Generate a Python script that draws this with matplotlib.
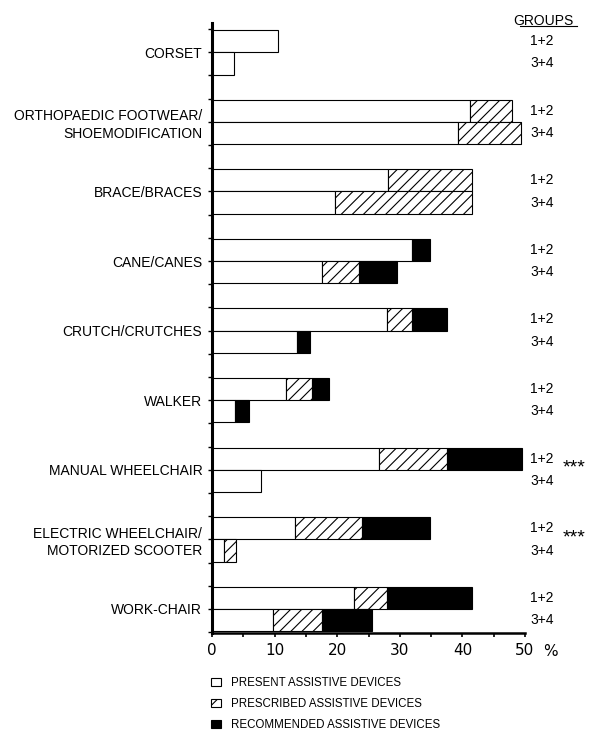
import matplotlib
matplotlib.use('Agg')
import matplotlib.pyplot as plt
from matplotlib.patches import Patch
import numpy as np

plt.rcParams['font.family'] = 'Liberation Sans'
plt.rcParams['hatch.linewidth'] = 0.8

categories = ['CORSET', 'ORTHOPAEDIC FOOTWEAR/\nSHOEMODIFICATION', 'BRACE/BRACES',
              'CANE/CANES', 'CRUTCH/CRUTCHES', 'WALKER', 'MANUAL WHEELCHAIR',
              'ELECTRIC WHEELCHAIR/\nMOTORIZED SCOOTER', 'WORK-CHAIR']

# percentages, groups 1+2
present_12 = [10.5, 41.2, 28.1, 32.0, 28.0, 11.9, 26.7, 13.2, 22.7]
prescribed_12 = [0, 6.8, 13.4, 0, 4.0, 4.0, 10.8, 10.8, 5.3]
recommended_12 = [0, 0, 0, 2.8, 5.6, 2.8, 12.1, 10.8, 13.6]

# percentages, groups 3+4
present_34 = [3.5, 39.3, 19.6, 17.6, 13.6, 3.7, 7.8, 1.9, 9.75]
prescribed_34 = [0, 10.0, 21.9, 5.9, 0, 0, 0, 1.9, 7.85]
recommended_34 = [0, 0, 0, 6.0, 2.1, 2.2, 0, 0, 8.0]

significant = ['MANUAL WHEELCHAIR', 'ELECTRIC WHEELCHAIR/\nMOTORIZED SCOOTER']
group_labels = ['1+2', '3+4']
legend_labels = ['PRESENT ASSISTIVE DEVICES', 'PRESCRIBED ASSISTIVE DEVICES',
                 'RECOMMENDED ASSISTIVE DEVICES']

fig = plt.figure(figsize=(5.9, 7.3), dpi=100)
ax = fig.add_axes([212 / 590, 97 / 730, 313 / 590, 610 / 730])

h = 0.32
pos = np.arange(len(categories))
styles = [dict(color='white', hatch=None),
          dict(color='white', hatch='///'),
          dict(color='black', hatch=None)]


def draw_group(y, series):
    left = np.zeros(len(y))
    for values, style in zip(series, styles):
        values = np.array(values, dtype=float)
        keep = values > 0
        ax.barh(y[keep], values[keep], height=h, left=left[keep], color=style['color'],
                hatch=style['hatch'], edgecolor='black', linewidth=0.8)
        left += values


draw_group(pos - h / 2, [present_12, prescribed_12, recommended_12])
draw_group(pos + h / 2, [present_34, prescribed_34, recommended_34])

ax.set_yticks(pos)
ax.set_yticklabels(categories, fontsize=10, linespacing=1.3)
ax.set_yticks(np.arange(-1, 3 * len(categories) - 1) / 3, minor=True)
ax.tick_params(axis='y', which='both', direction='out', length=3, width=1, pad=4)

ax.set_xticks(range(0, 51, 10))
ax.set_xticklabels(['0', '10', '20', '30', '40', '50'], fontsize=11, family='DejaVu Sans')
ax.set_xticks(range(0, 51, 5), minor=True)
ax.tick_params(axis='x', which='both', direction='out', length=3, width=1.2, pad=4)
fig.text(543 / 590, 1 - 652 / 730, '%', fontsize=11, family='DejaVu Sans', va='center', ha='left')

ax.set_xlim(0, 50)
ax.set_ylim(len(categories) - 1 + h + 0.025, -h - 0.1)

for s in ['top', 'right']:
    ax.spines[s].set_visible(False)
ax.spines['left'].set_linewidth(2.2)
ax.spines['bottom'].set_linewidth(1.8)

# group labels on the right
for i, cat in enumerate(categories):
    ax.text(52.7, i - h / 2, group_labels[0], fontsize=10, ha='center', va='center', clip_on=False)
    ax.text(52.7, i + h / 2, group_labels[1], fontsize=10, ha='center', va='center', clip_on=False)
    if cat in significant:
        ax.text(56.0, i - 0.025, '***', fontsize=14, ha='left', va='center', clip_on=False)

ax.text(53.0, -0.455, 'GROUPS', fontsize=10, ha='center', va='center', clip_on=False)
ax.plot([49.2, 58.3], [-0.37, -0.37], color='black', linewidth=0.8, clip_on=False)

handles = [Patch(facecolor='white', edgecolor='black', linewidth=0.8),
           Patch(facecolor='white', edgecolor='black', hatch='//', linewidth=0.8),
           Patch(facecolor='black', edgecolor='black', linewidth=0.8)]
fig.legend(handles, legend_labels, loc='upper left', bbox_to_anchor=(211 / 590, 1 - 677 / 730),
           frameon=False, fontsize=8.3, borderpad=0, borderaxespad=0, handlelength=0.85,
           handleheight=0.8, handletextpad=0.9, labelspacing=0.78)

fig.savefig('out.png', dpi=100)
